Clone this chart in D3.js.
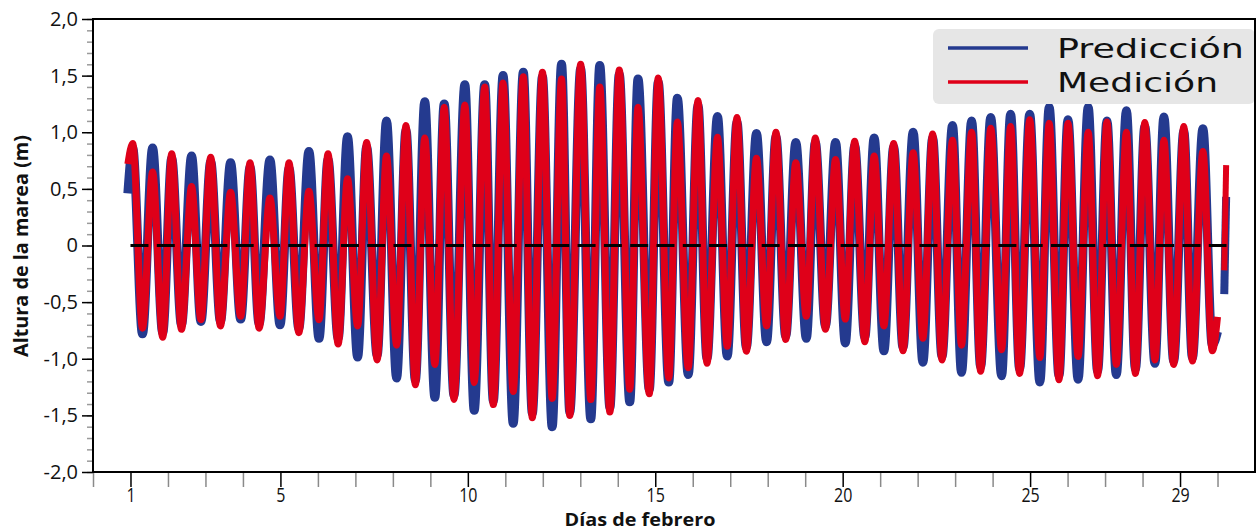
<!DOCTYPE html>
<html>
<head>
<meta charset="utf-8">
<script src="https://cdn.jsdelivr.net/npm/d3@7"></script>
<style>
  body { margin: 0; background: #fff; }
  svg { display: block; font-family: "Open Sans", sans-serif; }
</style>
</head>
<body>
<svg id="chart" width="1258" height="531"></svg>
<script>
// tide extrema (high / low water), in days of February
const extremaDays = [0.93,
  1.06, 1.32, 1.59, 1.86, 2.10, 2.36, 2.63, 2.88, 3.14, 3.40, 3.67, 3.94,
  4.19, 4.43, 4.72, 4.99, 5.23, 5.49, 5.76, 6.03, 6.27, 6.54, 6.79, 7.06,
  7.30, 7.58, 7.83, 8.10, 8.35, 8.60, 8.85, 9.12, 9.37, 9.63, 9.92, 10.17,
  10.45, 10.68, 10.94, 11.21, 11.48, 11.72, 11.99, 12.25, 12.50, 12.72, 13.01, 13.28,
  13.52, 13.79, 14.04, 14.32, 14.54, 14.84, 15.08, 15.36, 15.59, 15.88, 16.14, 16.38,
  16.66, 16.92, 17.18, 17.43, 17.70, 17.97, 18.22, 18.48, 18.75, 19.03, 19.27, 19.54,
  19.81, 20.07, 20.32, 20.59, 20.84, 21.10, 21.36, 21.61, 21.88, 22.14, 22.40, 22.65,
  22.93, 23.17, 23.44, 23.68, 23.95, 24.24, 24.48, 24.72, 24.99, 25.26, 25.51, 25.77,
  26.01, 26.28, 26.55, 26.80, 27.05, 27.30, 27.57, 27.81, 28.06, 28.33, 28.57, 28.83,
  29.10, 29.33, 29.61, 29.86,
  30.00];

// Predicción (m)
const predHeights = [0.46,
  0.86, -0.78, 0.86, -0.77, 0.77, -0.70, 0.79, -0.67, 0.74, -0.67, 0.73, -0.65,
  0.69, -0.69, 0.755, -0.70, 0.68, -0.73, 0.83, -0.82, 0.76, -0.82, 0.96, -0.985,
  0.87, -0.97, 1.10, -1.17, 1.02, -1.19, 1.27, -1.34, 1.25, -1.32, 1.42, -1.455,
  1.42, -1.37, 1.50, -1.57, 1.53, -1.48, 1.49, -1.60, 1.60, -1.47, 1.56, -1.53,
  1.59, -1.43, 1.51, -1.38, 1.47, -1.27, 1.44, -1.205, 1.30, -1.14, 1.24, -1.00,
  1.14, -0.976, 1.09, -0.90, 0.99, -0.85, 0.96, -0.80, 0.91, -0.82, 0.91, -0.71,
  0.91, -0.86, 0.88, -0.81, 0.95, -0.93, 0.87, -0.90, 1.00, -1.03, 0.95, -0.98,
  1.06, -1.12, 1.10, -1.07, 1.13, -1.15, 1.16, -1.09, 1.16, -1.205, 1.22, -1.15,
  1.11, -1.18, 1.22, -1.11, 1.10, -1.14, 1.19, -1.09, 1.05, -1.04, 1.135, -1.02,
  1.01, -0.99, 1.03, -0.88,
  -0.76];

// Medición (m)
const measHeights = [0.72,
  0.90, -0.73, 0.65, -0.81, 0.81, -0.74, 0.52, -0.655, 0.78, -0.71, 0.47, -0.625,
  0.73, -0.73, 0.42, -0.625, 0.73, -0.77, 0.48, -0.655, 0.81, -0.87, 0.59, -0.71,
  0.91, -1.01, 0.79, -0.88, 1.06, -1.23, 0.95, -1.05, 1.22, -1.36, 1.24, -1.21,
  1.40, -1.405, 1.435, -1.29, 1.49, -1.52, 1.53, -1.35, 1.47, -1.50, 1.60, -1.36,
  1.40, -1.47, 1.55, -1.27, 1.22, -1.31, 1.48, -1.17, 1.09, -1.08, 1.28, -1.04,
  0.955, -0.89, 1.13, -0.934, 0.77, -0.71, 1.00, -0.83, 0.73, -0.625, 0.95, -0.74,
  0.76, -0.65, 0.92, -0.85, 0.79, -0.71, 0.90, -0.93, 0.82, -0.82, 0.985, -1.01,
  0.93, -0.88, 1.00, -1.11, 1.035, -0.92, 1.05, -1.13, 1.11, -0.99, 1.08, -1.185,
  1.08, -0.98, 1.00, -1.15, 1.09, -1.05, 1.00, -1.13, 1.085, -1.01, 0.93, -1.05,
  1.05, -1.02, 0.83, -0.93,
  -0.63];

// last short piece after the gap in the record
const tailDays = [30.18, 30.23];
const predTail = [-0.43, 0.43];
const measTail = [-0.22, 0.71];

const xLabelDays = [1, 5, 10, 15, 20, 25, 29];
const yTickValues = [2, 1.5, 1, 0.5, 0, -0.5, -1, -1.5, -2];
const yTickLabels = ["2,0", "1,5", "1,0", "0,5", "0", "-0,5", "-1,0", "-1,5", "-2,0"];
const seriesNames = ["Predicción", "Medición"];
const seriesColors = ["#243a8f", "#df0019"];

const svg = d3.select("#chart");
const plotL = 93, plotR = 1255, plotT = 19, plotB = 472;

const x = d3.scaleLinear().domain([0, 31]).range([plotL, plotR]);
const y = d3.scaleLinear().domain([-2, 2]).range([plotB, plotT]);

// y axis: minor ticks every 0.1, major every 0.5
svg.append("g")
  .attr("transform", "translate(" + plotL + ",0)")
  .call(d3.axisLeft(y).tickValues(d3.range(-20, 21).map(d => d / 10)).tickSize(6).tickFormat(""))
  .call(g => g.select(".domain").remove())
  .call(g => g.selectAll("line").attr("stroke", "#9a9a9a").attr("stroke-width", 1.5));

svg.append("g")
  .attr("transform", "translate(" + plotL + ",0)")
  .call(d3.axisLeft(y).tickValues(yTickValues).tickSize(11).tickPadding(4)
    .tickFormat((d, i) => yTickLabels[i]))
  .call(g => g.select(".domain").remove())
  .call(g => g.selectAll("line").attr("stroke", "#000").attr("stroke-width", 1.5))
  .call(g => g.selectAll("text").attr("font-size", 20).attr("fill", "#111")
    .attr("font-family", "Open Sans, sans-serif"));

// x axis: a tick every day, labels only on some (narrow digits as in the figure)
svg.append("g")
  .attr("transform", "translate(0," + plotB + ")")
  .call(d3.axisBottom(x).tickValues(d3.range(0, 31)).tickSize(15).tickPadding(1)
    .tickFormat(d => xLabelDays.includes(d) ? d : ""))
  .call(g => g.select(".domain").remove())
  .call(g => g.selectAll("line")
    .attr("stroke", d => xLabelDays.includes(d) ? "#000" : "#8a8a8a")
    .attr("stroke-width", 1.5))
  .call(g => g.selectAll("text").attr("font-size", 20).attr("fill", "#111")
    .attr("transform", "scale(0.8,1)")
    .attr("font-family", "Open Sans, sans-serif"));

// series
const line = d3.line()
  .x(d => x(d.day))
  .y(d => y(d.h))
  .curve(d3.curveMonotoneX);
const straight = d3.line().x(d => x(d.day)).y(d => y(d.h));

const series = [
  { heights: predHeights, tail: predTail, width: 9 },
  { heights: measHeights, tail: measTail, width: 7 }
];

series.forEach(function(s, i) {
  const pts = extremaDays.map((d, k) => ({ day: d, h: s.heights[k] }));
  svg.append("path")
    .attr("d", line(pts))
    .attr("fill", "none")
    .attr("stroke", seriesColors[i])
    .attr("stroke-width", s.width)
    .attr("stroke-linejoin", "round");
  const tailPts = tailDays.map((d, k) => ({ day: d, h: s.tail[k] }));
  svg.append("path")
    .attr("d", straight(tailPts))
    .attr("fill", "none")
    .attr("stroke", seriesColors[i])
    .attr("stroke-width", s.width - 1);
});

// mean level
svg.append("line")
  .attr("x1", x(1)).attr("x2", x(30.24))
  .attr("y1", y(0)).attr("y2", y(0))
  .attr("stroke", "#000")
  .attr("stroke-width", 3)
  .attr("stroke-dasharray", "18 8.3");

// legend
const lg = svg.append("g");
lg.append("rect")
  .attr("x", 933).attr("y", 29)
  .attr("width", plotR - 933).attr("height", 75)
  .attr("rx", 6)
  .attr("fill", "#e6e6e6");
seriesNames.forEach(function(name, i) {
  const ly = 48 + i * 34;
  lg.append("line")
    .attr("x1", 948).attr("x2", 1028)
    .attr("y1", ly).attr("y2", ly)
    .attr("stroke", seriesColors[i])
    .attr("stroke-width", 3.5);
  lg.append("text")
    .attr("x", 1057).attr("y", ly + 10)
    .attr("font-family", "DejaVu Sans, sans-serif")
    .attr("font-size", 27)
    .attr("textLength", i == 0 ? 187 : 161)
    .attr("lengthAdjust", "spacingAndGlyphs")
    .attr("fill", "#111")
    .text(name);
});

// frame
svg.append("rect")
  .attr("x", plotL).attr("y", plotT)
  .attr("width", plotR - plotL).attr("height", plotB - plotT)
  .attr("fill", "none")
  .attr("stroke", "#000")
  .attr("stroke-width", 2);

// axis titles
svg.append("text")
  .attr("transform", "translate(28,246) rotate(-90)")
  .attr("text-anchor", "middle")
  .attr("font-weight", "bold")
  .attr("font-size", 19)
  .attr("textLength", 222)
  .attr("lengthAdjust", "spacingAndGlyphs")
  .attr("fill", "#111")
  .text("Altura de la marea (m)");

svg.append("text")
  .attr("x", 640).attr("y", 526)
  .attr("text-anchor", "middle")
  .attr("font-weight", "bold")
  .attr("font-size", 17)
  .attr("textLength", 151)
  .attr("lengthAdjust", "spacingAndGlyphs")
  .attr("fill", "#111")
  .text("Días de febrero");
</script>
</body>
</html>
